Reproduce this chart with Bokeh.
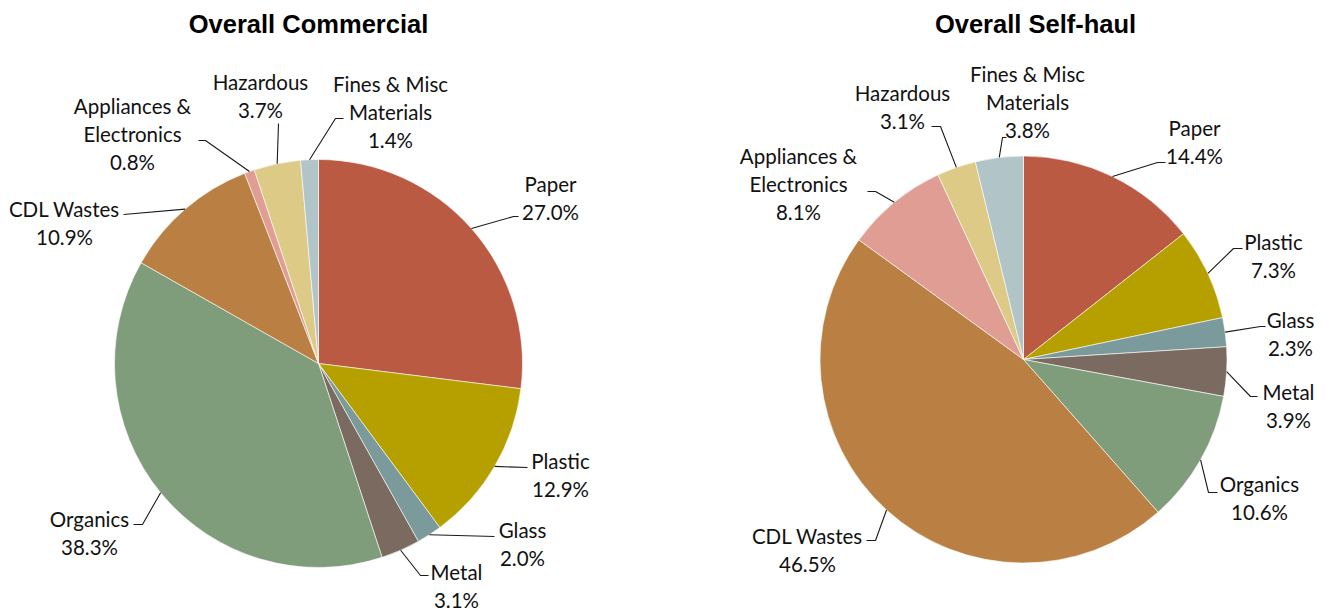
import numpy as np
from bokeh.plotting import figure
from bokeh.models import Range1d, ColumnDataSource
from bokeh.core.properties import value
from bokeh.embed import file_html
from bokeh.resources import INLINE

# ---------------- data ----------------
categories = ["Paper", "Plastic", "Glass", "Metal", "Organics", "CDL Wastes",
              "Appliances &\nElectronics", "Hazardous", "Fines & Misc\nMaterials"]
commercial = [27.0, 12.9, 2.0, 3.1, 38.3, 10.9, 0.8, 3.7, 1.4]
selfhaul = [14.4, 7.3, 2.3, 3.9, 10.6, 46.5, 8.1, 3.1, 3.8]
titles = ["Overall Commercial", "Overall Self-haul"]
colors = ["#BB5A42", "#B5A000", "#7B9A9B", "#7A6A5F", "#7F9C7B",
          "#B97F43", "#DF9D93", "#DDCA87", "#B1C4C7"]

# ---------------- layout (pixel coordinates, y downward) ----------------
W, H = 1325, 611
LINE = 28
FONT = "Lato"
FS = "20.5px"

pies = [
    dict(vals=commercial, cx=318, cy=363, r=204, title=titles[0], tx=308, ty=23,
         # label: first-line center (x, y); leader: elbow points after the edge point
         labels=[(550, 183), (560, 460), (522, 529), (456, 571), (89, 518),
                 (64, 208), (132, 105), (260, 81), (390, 83)],
         leaders=[[(513, 216), (518, 216)], [(527, 467)], [(494, 536)],
                  [(420, 575), (428, 575)], [(142, 524), (133, 524)],
                  [(123, 214)], [(205, 140), (198, 140)], [(278, 123)],
                  [(335, 118), (343, 118)]]),
    dict(vals=selfhaul, cx=1023, cy=359, r=203.5, title=titles[1], tx=1035, ty=23,
         labels=[(1194, 127), (1273, 241), (1290, 319), (1288, 391), (1259, 483),
                 (807, 535), (798, 155), (902, 92), (1027, 73)],
         leaders=[[(1157, 162), (1165, 162)], [(1233, 248), (1242, 248)],
                  [(1260, 326), (1265, 326)], [(1250, 396), (1257, 396)],
                  [(1208, 492), (1217, 492)], [(875, 540), (866, 540)],
                  [(875, 191), (867, 191)], [(940, 126), (931, 126)],
                  [(1002, 137), (1006, 137)]]),
]

p = figure(width=W, height=H, x_range=Range1d(0, W), y_range=Range1d(0, H),
           output_backend="svg", toolbar_location=None, min_border=0,
           outline_line_color=None, background_fill_color="white",
           border_fill_color="white")
p.axis.visible = False
p.xgrid.visible = False
p.ygrid.visible = False


def Y(py):
    return H - py


for pie in pies:
    vals = np.array(pie["vals"], dtype=float)
    frac = vals / vals.sum()
    cum = np.cumsum(frac)
    a0 = cum - frac
    a1 = cum
    src = ColumnDataSource(dict(
        start=np.pi / 2 - 2 * np.pi * a1,
        end=np.pi / 2 - 2 * np.pi * a0,
        color=colors,
        name=categories,
        val=vals,
    ))
    p.wedge(x=pie["cx"], y=Y(pie["cy"]), radius=pie["r"],
            start_angle="start", end_angle="end", direction="anticlock",
            fill_color="color", line_color="white", line_width=0.6, source=src)

    # title
    p.text(x=[pie["tx"]], y=[Y(pie["ty"])], text=[pie["title"]],
           text_font=value("Liberation Sans"), text_font_style="bold",
           text_font_size="25.5px", text_align="center", text_baseline="middle",
           text_color="black")

    # leader lines and labels
    mid = a0 + frac / 2
    xs, ys, tx, ty, tt = [], [], [], [], []
    for i, name in enumerate(categories):
        ex = pie["cx"] + pie["r"] * np.sin(2 * np.pi * mid[i])
        ey = pie["cy"] - pie["r"] * np.cos(2 * np.pi * mid[i])
        pts = [(ex, ey)] + pie["leaders"][i]
        xs.append([q[0] for q in pts])
        ys.append([Y(q[1]) for q in pts])
        lines = name.split("\n") + [f"{vals[i]:.1f}%"]
        lx, ly = pie["labels"][i]
        for k, t in enumerate(lines):
            tx.append(lx)
            ty.append(Y(ly + k * LINE))
            tt.append(t)
    p.multi_line(xs=xs, ys=ys, line_color="#1a1a1a", line_width=1.1)
    p.text(x=tx, y=ty, text=tt, text_font=value(FONT), text_font_size=FS,
           text_align="center", text_baseline="middle", text_color="#111111")

open("out.html", "w").write(file_html(p, INLINE))
